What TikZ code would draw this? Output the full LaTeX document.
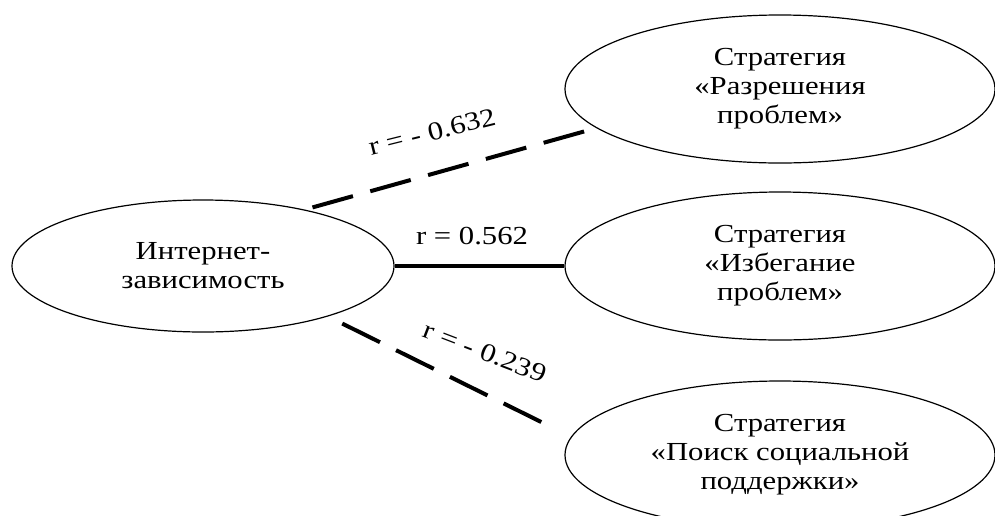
\documentclass[tikz,border=0pt]{standalone}
\usepackage{fontspec}
\setmainfont[FakeStretch=1.18]{Liberation Serif}
\usetikzlibrary{positioning,shapes.geometric}

\tikzset{
	idea/.style={ellipse,draw,line width=0.6pt,align=center,inner sep=0pt,
		font=\fontsize{13}{14.5}\selectfont},
	weak/.style={line width=2pt,dash pattern=on 21pt off 9pt},
	strong/.style={line width=2pt},
	coef/.style={font=\fontsize{13}{14.5}\selectfont,inner sep=1pt}
}

\begin{document}
\begin{tikzpicture}[x=0.5pt,y=-0.5pt]
	\useasboundingbox (0,0) rectangle (995,515);
	\clip (0,0) rectangle (995,515);
	\node[idea,minimum width=191pt,minimum height=66pt] (inet) at (203,266) {Интернет-\\зависимость};
	\node[idea,minimum width=215pt,minimum height=74pt] (solve) at (780,89) {Стратегия\\«Разрешения\\проблем»};
	\node[idea,minimum width=215pt,minimum height=74pt] (avoid) at (780,266) {Стратегия\\«Избегание\\проблем»};
	\node[idea,minimum width=215pt,minimum height=74pt] (support) at (780,455) {Стратегия\\«Поиск социальной\\поддержки»};
	% correlations
	\draw[weak,shorten <=4pt,shorten >=4pt] (inet.29) -- (solve.192);
	\draw[strong] (inet.east) -- (avoid.west);
	\draw[weak,shorten <=8pt,shorten >=14pt] (inet.-22) -- (support.175);
	\node[coef,rotate=14] (c1) at (432,132) {r = - 0.632};
	\node[coef] (c2) at (472,236) {r = 0.562};
	\node[coef,rotate=-21] (c3) at (485,352) {r = - 0.239};
\end{tikzpicture}
\end{document}
